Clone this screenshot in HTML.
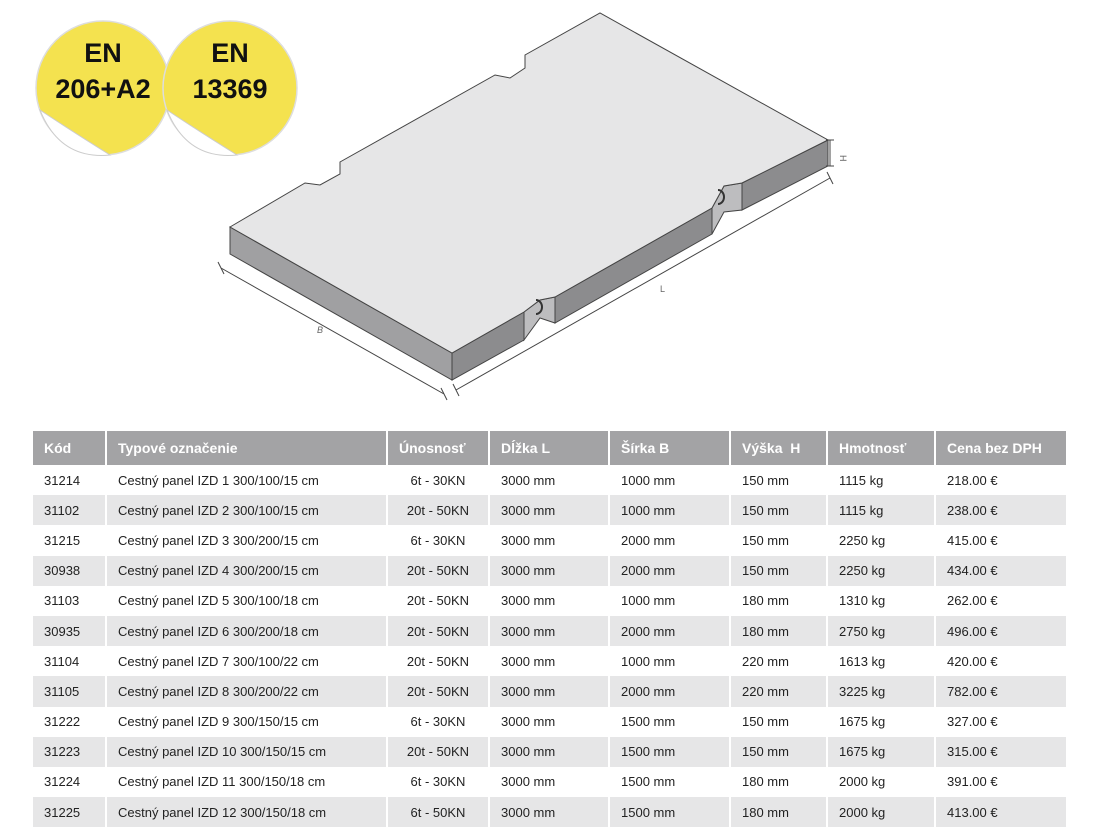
<!DOCTYPE html>
<html><head><meta charset="utf-8"><style>
body{margin:0;width:1103px;height:832px;background:#fff;position:relative;overflow:hidden;font-family:"Liberation Sans",sans-serif}
svg{position:absolute;left:0;top:0}
table{position:absolute;left:33px;top:431px;border-collapse:collapse;width:1033px;font-size:13px;color:#222;table-layout:fixed}
th{background:#a3a3a5;color:#fff;text-align:left;font-weight:bold;height:34px;padding:0 0 0 11px;border-left:2px solid #fff;font-size:14px;white-space:nowrap;overflow:hidden}
th:first-child{border-left:none}
td{height:30.2px;padding:0 0 0 11px;border-left:2px solid transparent;white-space:nowrap;overflow:hidden}
td:first-child{border-left:none}
tr.g td{background:#e6e6e7}
.c{text-align:center;padding:0}
</style></head><body>
<svg width="1103" height="420">
<g>
<circle cx="103" cy="88" r="67" fill="#f4e24f" stroke="#ddd" stroke-width="1.5"/>
<path d="M40,110 Q60,160 110,155 Q70,130 40,110Z" fill="#fff" stroke="#ccc"/>
<circle cx="230" cy="88" r="67" fill="#f4e24f" stroke="#ddd" stroke-width="1.5"/>
<path d="M167,110 Q187,160 237,155 Q197,130 167,110Z" fill="#fff" stroke="#ccc"/>
<text x="103" y="62" text-anchor="middle" font-size="27" font-weight="bold" fill="#111">EN</text>
<text x="103" y="98" text-anchor="middle" font-size="27" font-weight="bold" fill="#111">206+A2</text>
<text x="230" y="62" text-anchor="middle" font-size="27" font-weight="bold" fill="#111">EN</text>
<text x="230" y="98" text-anchor="middle" font-size="27" font-weight="bold" fill="#111">13369</text>
</g>
<g stroke="#444" stroke-width="1">
<polygon points="230,227 452,353 452,380 230,254" fill="#a0a0a2"/>
<polygon points="452,353 524,312 524,340 452,380" fill="#8c8c8e"/>
<polygon points="524,312 540,300 555,297 555,323 540,318 524,340" fill="#bdbdbf"/>
<polygon points="555,297 712,208 712,234 555,323" fill="#8c8c8e"/>
<polygon points="712,208 724,186 742,183 742,210 724,212 712,234" fill="#bdbdbf"/>
<polygon points="742,183 828,140 828,166 742,210" fill="#8c8c8e"/>
<polygon points="230,227 305,183 320,185 340,174 340,162 495,75 510,78 525,68 525,55 600,13 828,140 742,183 724,186 712,208 555,297 540,300 524,312 452,353" fill="#e6e6e7"/>
<path d="M536,300 a6,7 0 0 1 0,14 M718,190 a6,7 0 0 1 0,14" fill="none" stroke="#333" stroke-width="2"/>
<path d="M221,268 L444,394 M218,262 L224,274 M441,388 L447,400 M456,390 L830,178 M453,384 L459,396 M827,172 L833,184 M830,140 L830,166 M826,140 L834,140 M826,166 L834,166" fill="none"/>
</g>
<text x="317" y="333" font-size="9" fill="#666" font-style="italic">B</text>
<text x="660" y="292" font-size="9" fill="#666">L</text>
<text x="840" y="155" font-size="9" fill="#666" transform="rotate(90 840 155)">H</text>
</svg>
<table>
<colgroup><col style="width:73px"><col style="width:281px"><col style="width:102px"><col style="width:120px"><col style="width:121px"><col style="width:97px"><col style="width:108px"><col style="width:131px"></colgroup>
<tr><th>Kód</th><th>Typové označenie</th><th>Únosnosť</th><th>Dĺžka L</th><th>Šírka B</th><th>Výška&nbsp; H</th><th>Hmotnosť</th><th>Cena bez DPH</th></tr>
<tr><td>31214</td><td>Cestný panel IZD 1 300/100/15 cm</td><td class="c">6t - 30KN</td><td>3000 mm</td><td>1000 mm</td><td>150 mm</td><td>1115 kg</td><td>218.00 €</td></tr>
<tr class="g"><td>31102</td><td>Cestný panel IZD 2 300/100/15 cm</td><td class="c">20t - 50KN</td><td>3000 mm</td><td>1000 mm</td><td>150 mm</td><td>1115 kg</td><td>238.00 €</td></tr>
<tr><td>31215</td><td>Cestný panel IZD 3 300/200/15 cm</td><td class="c">6t - 30KN</td><td>3000 mm</td><td>2000 mm</td><td>150 mm</td><td>2250 kg</td><td>415.00 €</td></tr>
<tr class="g"><td>30938</td><td>Cestný panel IZD 4 300/200/15 cm</td><td class="c">20t - 50KN</td><td>3000 mm</td><td>2000 mm</td><td>150 mm</td><td>2250 kg</td><td>434.00 €</td></tr>
<tr><td>31103</td><td>Cestný panel IZD 5 300/100/18 cm</td><td class="c">20t - 50KN</td><td>3000 mm</td><td>1000 mm</td><td>180 mm</td><td>1310 kg</td><td>262.00 €</td></tr>
<tr class="g"><td>30935</td><td>Cestný panel IZD 6 300/200/18 cm</td><td class="c">20t - 50KN</td><td>3000 mm</td><td>2000 mm</td><td>180 mm</td><td>2750 kg</td><td>496.00 €</td></tr>
<tr><td>31104</td><td>Cestný panel IZD 7 300/100/22 cm</td><td class="c">20t - 50KN</td><td>3000 mm</td><td>1000 mm</td><td>220 mm</td><td>1613 kg</td><td>420.00 €</td></tr>
<tr class="g"><td>31105</td><td>Cestný panel IZD 8 300/200/22 cm</td><td class="c">20t - 50KN</td><td>3000 mm</td><td>2000 mm</td><td>220 mm</td><td>3225 kg</td><td>782.00 €</td></tr>
<tr><td>31222</td><td>Cestný panel IZD 9 300/150/15 cm</td><td class="c">6t - 30KN</td><td>3000 mm</td><td>1500 mm</td><td>150 mm</td><td>1675 kg</td><td>327.00 €</td></tr>
<tr class="g"><td>31223</td><td>Cestný panel IZD 10 300/150/15 cm</td><td class="c">20t - 50KN</td><td>3000 mm</td><td>1500 mm</td><td>150 mm</td><td>1675 kg</td><td>315.00 €</td></tr>
<tr><td>31224</td><td>Cestný panel IZD 11 300/150/18 cm</td><td class="c">6t - 30KN</td><td>3000 mm</td><td>1500 mm</td><td>180 mm</td><td>2000 kg</td><td>391.00 €</td></tr>
<tr class="g"><td>31225</td><td>Cestný panel IZD 12 300/150/18 cm</td><td class="c">6t - 50KN</td><td>3000 mm</td><td>1500 mm</td><td>180 mm</td><td>2000 kg</td><td>413.00 €</td></tr>
</table>
</body></html>
